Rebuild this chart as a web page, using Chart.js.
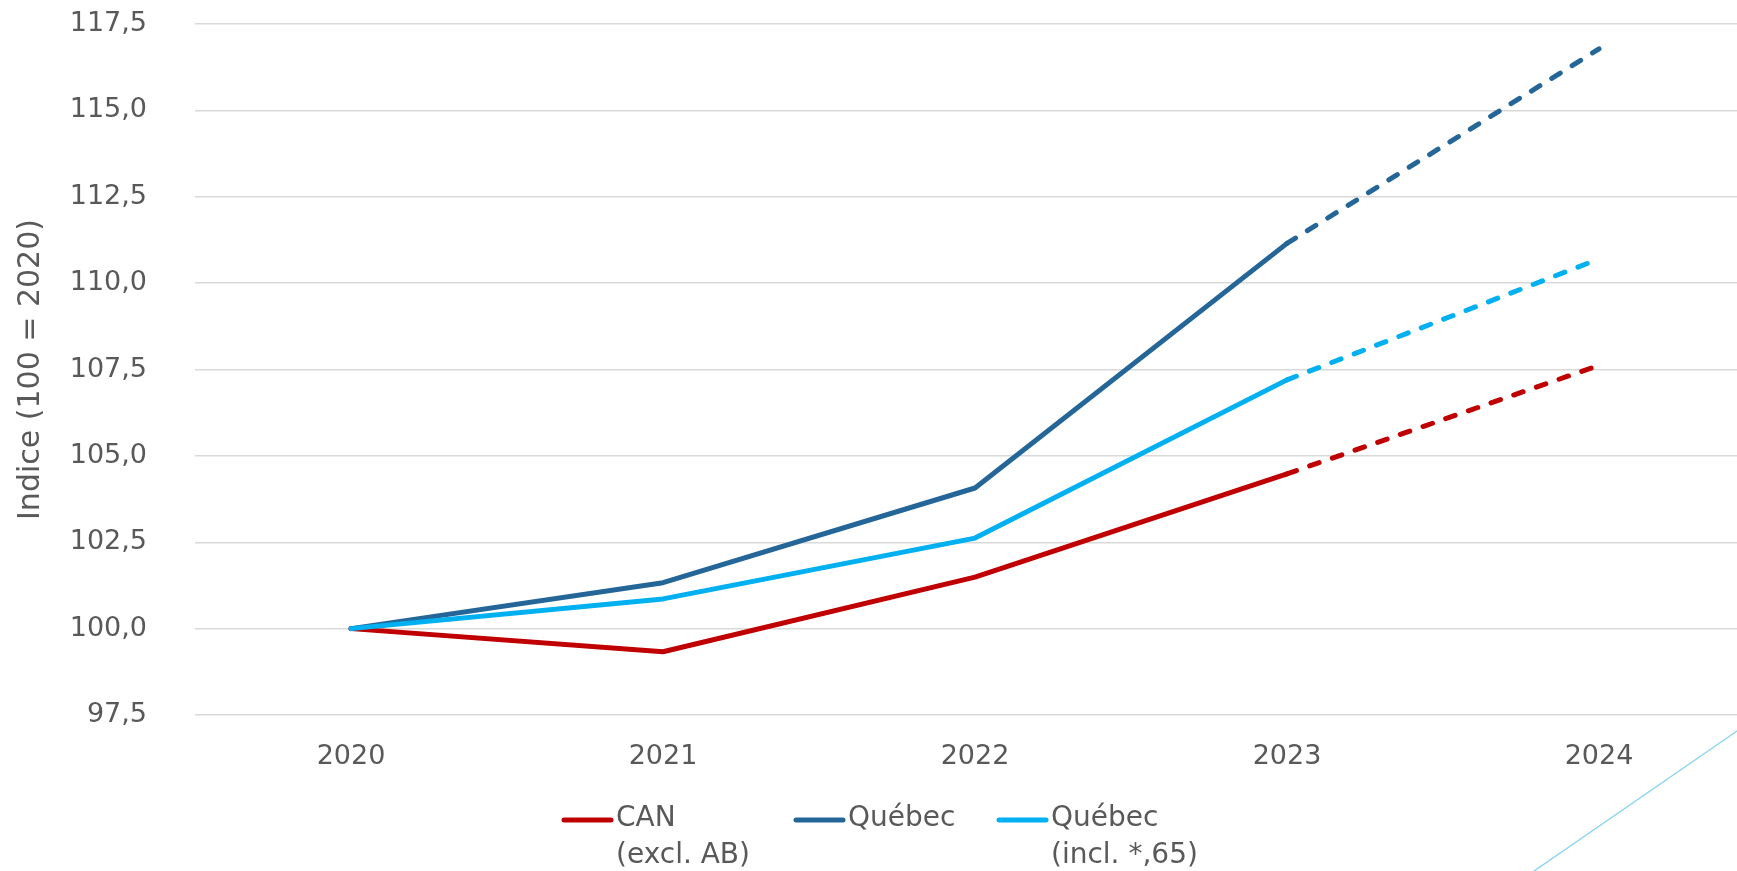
<!DOCTYPE html>
<html>
<head>
<meta charset="utf-8">
<script src="https://cdn.jsdelivr.net/npm/chart.js@4.4.1/dist/chart.umd.min.js"></script>
<style>
  html, body { margin: 0; padding: 0; background: #fff; overflow: hidden; width: 1737px; height: 871px; }
  #wrap { position: relative; width: 1755px; height: 871px; }
</style>
</head>
<body>
<div id="wrap"><canvas id="c" width="1755" height="871"></canvas></div>
<script>
// Index values, 100 = 2020
const years = ['2020', '2021', '2022', '2023', '2024'];
const canExclAB = [100.0, 99.33, 101.49, 104.48, 107.62];
const quebec = [100.0, 101.33, 104.07, 111.15, 116.78];
const quebecIncl = [100.0, 100.86, 102.62, 107.20, 110.70];
const yTicks = [97.5, 100.0, 102.5, 105.0, 107.5, 110.0, 112.5, 115.0, 117.5];
const legendLines = [['CAN', '(excl. AB)'], ['Québec'], ['Québec', '(incl. *,65)']];
const firstProjected = 3; // segments after this index are projections (dashed)

const FONT = 'DejaVu Sans';
const TEXT = '#595959';

const projectedDash = ctx => ctx.p0DataIndex >= firstProjected ? [10, 14] : undefined;

function series(label, data, color, order) {
  return {
    label, data, order,
    borderColor: color,
    backgroundColor: color,
    borderWidth: 5,
    borderCapStyle: 'round',
    borderJoinStyle: 'round',
    pointRadius: 0,
    pointHoverRadius: 0,
    tension: 0,
    fill: false,
    segment: { borderDash: projectedDash }
  };
}

// Legend with two-line labels under the chart
const legendPlugin = {
  id: 'wrapLegend',
  afterDraw(chart) {
    const ctx = chart.ctx;
    ctx.save();
    ctx.font = `28px "${FONT}"`;
    const starts = [562, 794, 997];
    const swatch = 51, gap = 3, lineH = 37, y0 = 819;
    chart.data.datasets.forEach((ds, i) => {
      const x = starts[i];
      ctx.strokeStyle = ds.borderColor;
      ctx.lineWidth = 5;
      ctx.lineCap = 'round';
      ctx.beginPath();
      ctx.moveTo(x + 2, y0 + 1);
      ctx.lineTo(x + swatch - 2, y0 + 1);
      ctx.stroke();
      ctx.fillStyle = TEXT;
      ctx.textBaseline = 'middle';
      ctx.textAlign = 'left';
      legendLines[i].forEach((t, k) => ctx.fillText(t, x + swatch + gap, y0 + k * lineH));
    });
    // thin accent stroke in the lower right corner
    ctx.strokeStyle = '#8DD5F0';
    ctx.lineWidth = 1.5;
    ctx.beginPath();
    ctx.moveTo(1737, 731);
    ctx.lineTo(1534, 871);
    ctx.stroke();
    ctx.restore();
  }
};

new Chart(document.getElementById('c'), {
  type: 'line',
  data: {
    labels: years,
    datasets: [
      series('CAN (excl. AB)', canExclAB, '#C00000', 2),
      series('Québec', quebec, '#246698', 1),
      series('Québec (incl. *,65)', quebecIncl, '#00B0F0', 0)
    ]
  },
  options: {
    responsive: false,
    animation: false,
    devicePixelRatio: 1,
    layout: { padding: 0 },
    plugins: { legend: { display: false }, tooltip: { enabled: false } },
    scales: {
      x: {
        offset: true,
        grid: { display: false, drawTicks: false },
        border: { display: false },
        ticks: { color: TEXT, font: { family: FONT, size: 27 }, padding: 26, maxRotation: 0 },
        afterFit(scale) { scale.height = 156; }
      },
      y: {
        min: 97.5,
        max: 117.5,
        afterBuildTicks(scale) { scale.ticks = yTicks.map(v => ({ value: v })); },
        grid: { color: '#D9D9D9', lineWidth: 1.5, drawTicks: false },
        border: { display: false },
        ticks: {
          color: TEXT,
          font: { family: FONT, size: 27 },
          padding: 48,
          callback: v => Number(v).toFixed(1).replace('.', ',')
        },
        title: {
          display: true,
          text: 'Indice (100 = 2020)',
          color: TEXT,
          font: { family: FONT, size: 30 },
          padding: { top: 13, bottom: 0 }
        },
        afterFit(scale) {
          scale.width = 195;
          scale.paddingTop = 24;
          scale.paddingBottom = 0;
        }
      }
    }
  },
  plugins: [legendPlugin]
});
</script>
</body>
</html>
